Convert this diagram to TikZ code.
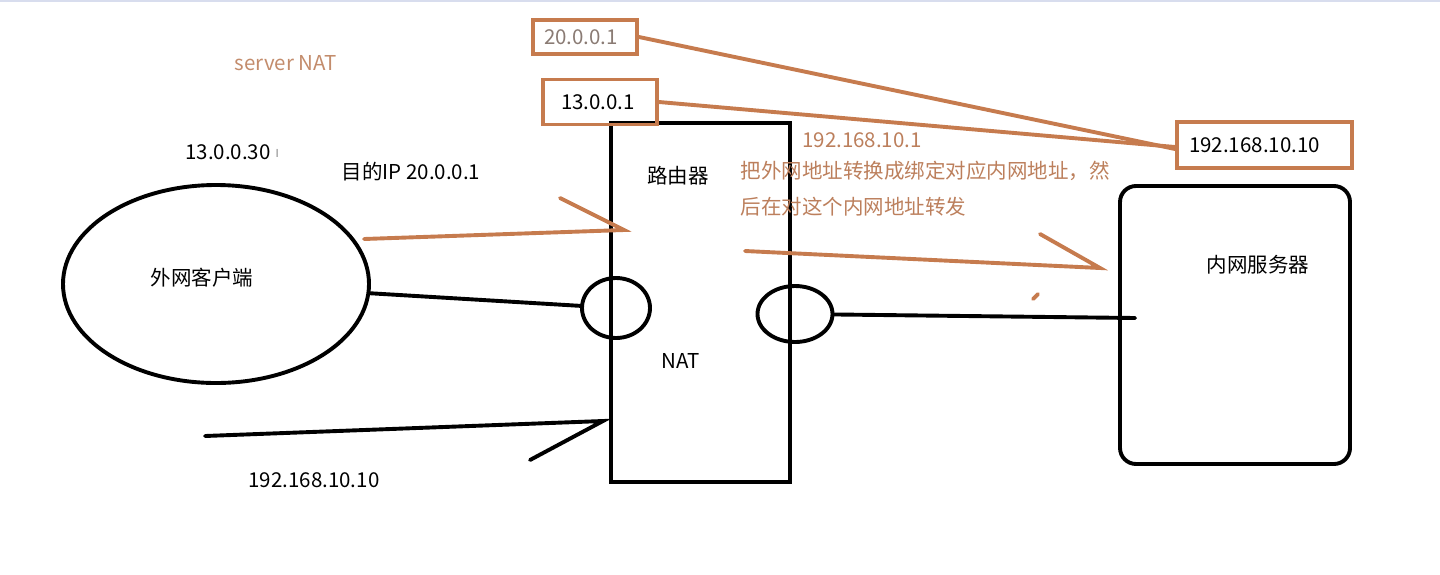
\documentclass[tikz,border=0pt]{standalone}
\usepackage{fontspec}
\setmainfont{Noto Sans CJK SC}
\usetikzlibrary{shapes.geometric}
\definecolor{rust}{HTML}{C67B4E}
\definecolor{rusttext}{HTML}{BC7F5C}
\definecolor{greyink}{HTML}{8A7B74}
\definecolor{topbar}{HTML}{D8DDEE}

\begin{document}
\begin{tikzpicture}[x=1pt,y=-1pt,font=\fontsize{20.5}{24}\selectfont,
    wire/.style={black,line width=3.9pt,line cap=round},
    rustwire/.style={rust,line width=3.9pt,line cap=round},
    ipbox/.style={draw=rust,line width=3.9pt,inner sep=0pt},
    port/.style={ellipse,draw=black,line width=3.9pt,inner sep=0pt},
    hostbox/.style={draw=black,line width=3.9pt,inner sep=0pt}]
  \useasboundingbox (0,0) rectangle (1440,574);
  \fill[topbar] (0,0) rectangle (1440,2);
  % hosts
  \node[port,minimum width=306pt,minimum height=198pt] (client) at (216,284) {};
  \node (clientlbl) at (202,278) {外网客户端};
  \node[hostbox,minimum width=179pt,minimum height=359pt] (router) at (700.5,302.5) {};
  \node (routerlbl) at (678,176) {路由器};
  \node (natlbl) at (681,361) {NAT};
  \node[hostbox,rounded corners=16pt,minimum width=230pt,minimum height=278pt] (server) at (1235,325) {};
  \node (serverlbl) at (1258,265) {内网服务器};
  % interfaces
  \node[port,minimum width=68pt,minimum height=60pt] (lport) at (616,308) {};
  \node[port,minimum width=75pt,minimum height=56pt] (rport) at (795,314) {};
  \draw[wire] (client) -- (lport);
  \draw[wire] (rport) -- ([xshift=17pt,yshift=7pt]server.west);
  % addresses
  \node[ipbox,minimum width=104pt,minimum height=34pt,text=greyink] (pubip) at (585,37) {\hspace*{-8pt}20.0.0.1};
  \node[ipbox,minimum width=114pt,minimum height=45pt] (wanip) at (600,102) {\raisebox{-6pt}{13.0.0.1}\hspace*{4pt}};
  \node[ipbox,minimum width=175pt,minimum height=46pt] (srvip) at (1264.5,145) {192.168.10.10\hspace*{20pt}};
  \draw[rustwire] (pubip.east) -- ([yshift=-4pt]srvip.west);
  \draw[rustwire] (wanip.east) -- ([yshift=-2pt]srvip.west);
  \node[text=rusttext!90] (title) at (286,63) {server NAT};
  \node (cliip) at (228,152) {13.0.0.30};
  \node[gray,font=\fontsize{11}{12}\selectfont,right=0pt] (cursor) at (272,153) {I};
  \node (dstip) at (411,172) {目的IP 20.0.0.1};
  \node[text=rusttext] (lanip) at (862,140) {192.168.10.1};
  \node[text=rusttext,anchor=west,align=left,font=\fontsize{20.5}{36}\selectfont] (note) at (737,189)
    {把外网地址转换成绑定对应内网地址，然\\后在对这个内网地址转发};
  \node (backip) at (314,480) {192.168.10.10};
  % strokes
  \coordinate (in1) at (364,239);
  \coordinate (in1tip) at (624,230);
  \coordinate (in1barb) at (560,198);
  \draw[rustwire] (in1) -- (in1tip) -- (in1barb);
  \coordinate (fw1) at (745,251);
  \coordinate (fw1tip) at (1100,268);
  \coordinate (fw1barb) at (1040,234);
  \draw[rustwire] (fw1) -- (fw1tip) -- (fw1barb);
  \coordinate (dot1) at (1033,299);
  \coordinate (dot2) at (1038,294);
  \draw[rustwire] (dot1) -- (dot2);
  \coordinate (out1) at (205,436);
  \coordinate (out1tip) at (603,421);
  \coordinate (out1barb) at (530,460);
  \draw[wire] (out1) -- (out1tip) -- (out1barb);
\end{tikzpicture}
\end{document}
